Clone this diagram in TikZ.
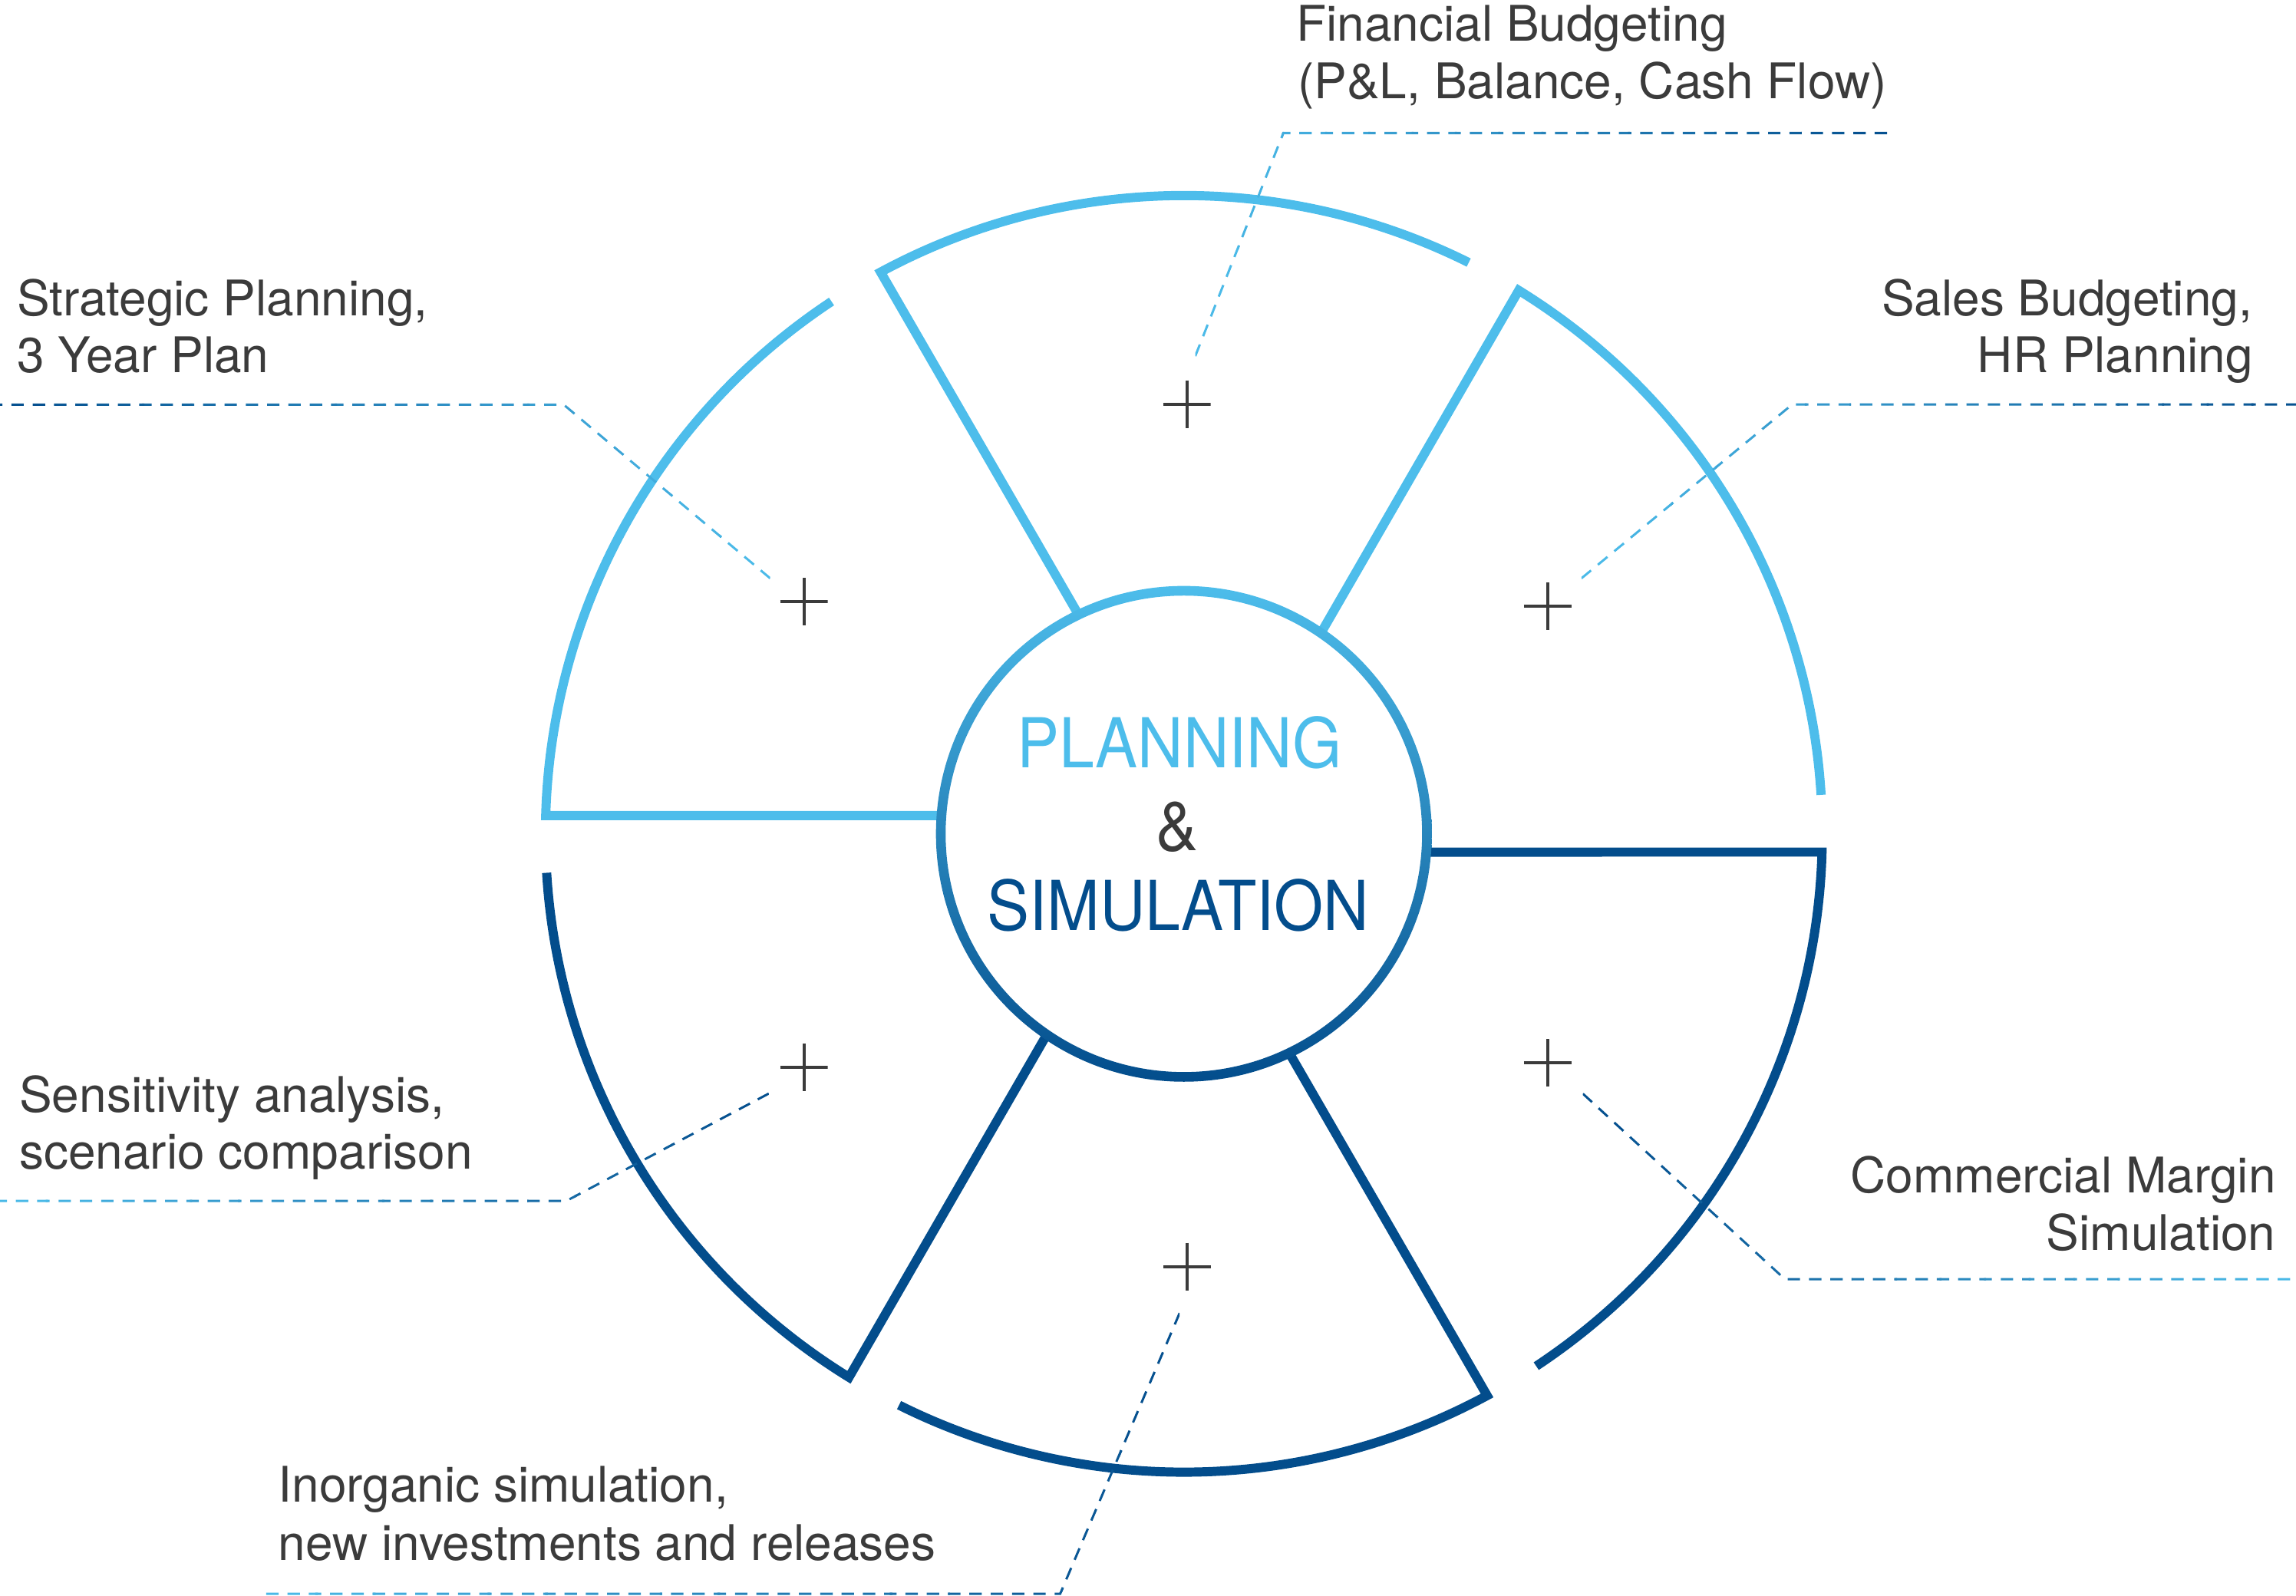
\documentclass[tikz,border=0pt]{standalone}
\usepackage{fontspec}
\setmainfont{TeX Gyre Heros}
\newfontfamily\ctrfont{TeX Gyre Heros}[FakeStretch=0.92]
\usetikzlibrary{calc}
\definecolor{lightb}{HTML}{4DBDEB}
\definecolor{darkb}{HTML}{034D8C}
\definecolor{txt}{HTML}{3B3B3B}
\newcommand\gleader[5]{%
  \foreach \i in {0,...,15}{%
    \pgfmathsetmacro\fa{\i/16}%
    \pgfmathsetmacro\fb{(\i+1)/16+0.003}%
    \pgfmathtruncatemacro\pc{100*(\i+0.5)/16}%
    \begin{scope}
      \clip ($(#1)!\fa!(#3)+(0,-1200)$) rectangle ($(#1)!\fb!(#3)+(0,1200)$);
      \draw[leader, draw=#5!\pc!#4] (#1) -- (#2) -- (#3);
    \end{scope}}}
\begin{document}
\begin{tikzpicture}[x=0.1908mm,y=0.1908mm,
  seg/.style={line width=3.4pt, line cap=butt, line join=miter},
  leader/.style={line width=0.85pt, dash pattern=on 4.6pt off 3.3pt},
  lbl/.style={inner sep=0pt, text=txt, font=\fontsize{18.2pt}{21pt}\selectfont},
  ctr/.style={inner sep=0pt, anchor=base, font=\ctrfont\fontsize{25.5pt}{30pt}\selectfont},
  plusmark/.style={inner sep=0pt, minimum size=6.2mm, draw=none,
    path picture={\draw[txt, line width=1.15pt]
      (path picture bounding box.north) -- (path picture bounding box.south)
      (path picture bounding box.west) -- (path picture bounding box.east);}}]
\useasboundingbox (-808.5,-520.5) rectangle (759.5,569.5);

% outer segments
\foreach \t/\c in {180/lightb,120/lightb,60/lightb,0/darkb,-60/darkb,-120/darkb}{
  \draw[seg, draw=\c] ({\t-4.32}:166) -- ({\t-1.64}:436)
     arc[start angle={\t-1.64}, end angle={\t-56.5}, radius=436];
}

% inner circle with gradient ring
\node[circle, minimum size=63.3mm, inner sep=0pt] (hub) at (0,0) {};
\shade[top color=lightb, bottom color=darkb, even odd rule]
  (hub.center) circle[radius=169.3] (hub.center) circle[radius=162.7];

% leader coordinates
\coordinate (f0) at (7.8,326.3);    \coordinate (f1) at (67.9,478.6);   \coordinate (f2) at (480.5,478.6);
\coordinate (s0) at (-282.5,174.5); \coordinate (s1) at (-423.5,293.1); \coordinate (s2) at (-808.5,293.1);
\coordinate (b0) at (271.5,174.5);  \coordinate (b1) at (415.5,293.3);  \coordinate (b2) at (759.5,293.3);
\coordinate (e0) at (-283.5,-177.4);\coordinate (e1) at (-421.7,-250.7);\coordinate (e2) at (-808.5,-250.7);
\coordinate (m0) at (272.5,-177.5); \coordinate (m1) at (410.5,-304.2); \coordinate (m2) at (759.5,-304.2);
\coordinate (i0) at (-2.9,-327.3);  \coordinate (i1) at (-84.5,-519.1); \coordinate (i2) at (-630.5,-519.1);

\gleader{f0}{f1}{f2}{lightb}{darkb}
\gleader{s0}{s1}{s2}{lightb}{darkb}
\gleader{b0}{b1}{b2}{lightb}{darkb}
\gleader{e0}{e1}{e2}{darkb}{lightb}
\gleader{m0}{m1}{m2}{darkb}{lightb}
\gleader{i0}{i1}{i2}{darkb}{lightb}

% plus marks
\node[plusmark] (p1) at (2,293.5) {};
\node[plusmark] (p2) at (-259.5,158.5) {};
\node[plusmark] (p3) at (248.5,155.5) {};
\node[plusmark] (p4) at (-259.5,-159.5) {};
\node[plusmark] (p5) at (248.5,-156.5) {};
\node[plusmark] (p6) at (2.3,-295.5) {};

% centre text
\node[ctr, text=lightb] (t1) at (-2.9,45) {PLANNING};
\node[ctr, text=txt] (t2) at (-4.5,-11.5) {\&};
\node[ctr, text=darkb] (t3) at (-3.9,-65.9) {SIMULATION};

% labels
\node[lbl, anchor=base west] (fin1) at (76.5,541.5) {Financial Budgeting};
\node[lbl, anchor=base west] (fin2) at (77.5,502) {(P\&L, Balance, Cash Flow)};
\node[lbl, anchor=base west] (str1) at (-797.3,353.7) {Strategic Planning,};
\node[lbl, anchor=base west] (str2) at (-797.3,315) {3 Year Plan};
\node[lbl, anchor=base east] (sal1) at (730,353.7) {Sales Budgeting,};
\node[lbl, anchor=base east] (sal2) at (730.5,315) {HR Planning};
\node[lbl, anchor=base west] (sen1) at (-795.6,-190.1) {Sensitivity analysis,};
\node[lbl, anchor=base west] (sen2) at (-795.6,-228.9) {scenario comparison};
\node[lbl, anchor=base east] (com1) at (746,-245) {Commercial Margin};
\node[lbl, anchor=base east] (com2) at (746,-284.3) {Simulation};
\node[lbl, anchor=base west] (ino1) at (-618.7,-456.2) {Inorganic simulation,};
\node[lbl, anchor=base west] (ino2) at (-618.7,-496) {new investments and releases};
\end{tikzpicture}
\end{document}
